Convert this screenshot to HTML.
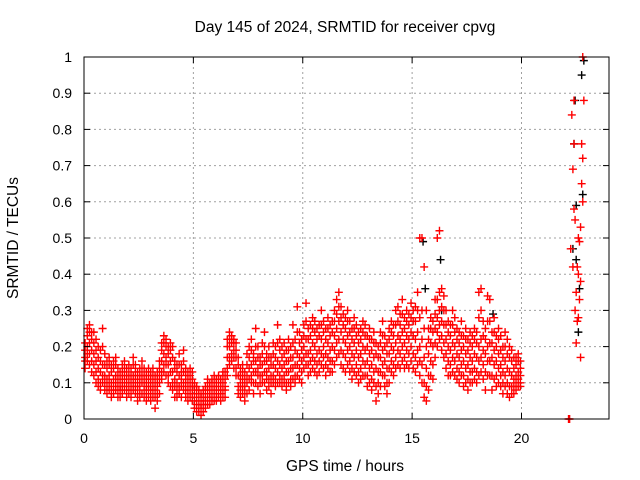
<!DOCTYPE html>
<html><head><meta charset="utf-8"><style>
html,body{margin:0;padding:0;background:#fff}
svg{display:block;font-family:"Liberation Sans",sans-serif}
</style></head><body>
<svg id="chart" width="640" height="480" viewBox="0 0 640 480" xmlns="http://www.w3.org/2000/svg">
<text x="345" y="32" font-size="15.5" text-anchor="middle">Day 145 of 2024, SRMTID for receiver cpvg</text>
<g id="grid"></g>
<g id="marks"></g>
<g id="axes"></g>
<text x="345" y="471" font-size="15.5" text-anchor="middle">GPS time / hours</text>
<text transform="translate(18,238) rotate(-90)" font-size="15.5" text-anchor="middle">SRMTID / TECUs</text>
</svg>
<script>
const xTicks=[0,5,10,15,20];
const yTicks=[0,0.1,0.2,0.3,0.4,0.5,0.6,0.7,0.8,0.9,1];
const yTickLabels=["0","0.1","0.2","0.3","0.4","0.5","0.6","0.7","0.8","0.9","1"];
const binStart=0.05, binStep=0.1;
const midVals=[0.17,0.2,0.21,0.19,0.18,0.16,0.14,0.13,0.15,0.12,
0.11,0.12,0.1,0.11,0.12,0.1,0.09,0.11,0.12,0.1,
0.11,0.1,0.12,0.11,0.09,0.1,0.12,0.1,0.09,0.1,
0.09,0.1,0.08,0.09,0.12,0.16,0.18,0.17,0.15,0.16,
0.13,0.11,0.1,0.12,0.11,0.13,0.1,0.09,0.1,0.09,
0.07,0.06,0.05,0.04,0.05,0.06,0.08,0.07,0.08,0.09,
0.08,0.09,0.08,0.1,0.09,0.17,0.2,0.21,0.19,0.17,
0.12,0.1,0.11,0.09,0.12,0.14,0.15,0.13,0.16,0.14,
0.12,0.15,0.16,0.13,0.14,0.12,0.15,0.14,0.16,0.15,
0.14,0.15,0.13,0.16,0.14,0.17,0.15,0.18,0.17,0.16,
0.2,0.22,0.18,0.19,0.21,0.2,0.18,0.19,0.22,0.2,
0.18,0.21,0.19,0.2,0.23,0.25,0.27,0.24,0.22,0.21,
0.23,0.2,0.18,0.21,0.19,0.17,0.18,0.2,0.19,0.16,
0.18,0.15,0.17,0.14,0.13,0.17,0.19,0.16,0.14,0.18,
0.2,0.19,0.21,0.23,0.22,0.24,0.21,0.23,0.22,0.24,
0.23,0.22,0.24,0.2,0.22,0.17,0.14,0.18,0.21,0.2,
0.25,0.28,0.3,0.27,0.26,0.22,0.2,0.19,0.21,0.2,
0.18,0.17,0.19,0.16,0.18,0.15,0.17,0.16,0.18,0.17,
0.2,0.22,0.19,0.18,0.2,0.21,0.17,0.19,0.16,0.18,
0.15,0.13,0.16,0.14,0.13,0.12,0.11,0.12,0.13,0.12];
const loVals=[0.14,0.16,0.15,0.13,0.12,0.1,0.09,0.08,0.1,0.08,
0.07,0.08,0.06,0.07,0.08,0.06,0.06,0.07,0.08,0.06,
0.07,0.06,0.08,0.07,0.05,0.06,0.07,0.06,0.05,0.06,
0.05,0.06,0.03,0.05,0.07,0.11,0.13,0.12,0.1,0.09,
0.08,0.06,0.06,0.07,0.06,0.08,0.06,0.05,0.06,0.05,
0.03,0.02,0.02,0.01,0.02,0.03,0.04,0.04,0.05,0.05,
0.05,0.06,0.05,0.06,0.06,0.12,0.15,0.16,0.14,0.12,
0.07,0.06,0.07,0.05,0.07,0.08,0.1,0.07,0.1,0.09,
0.07,0.1,0.1,0.08,0.09,0.07,0.1,0.09,0.1,0.1,
0.09,0.1,0.08,0.1,0.09,0.11,0.1,0.12,0.11,0.1,
0.14,0.15,0.12,0.13,0.14,0.13,0.12,0.13,0.15,0.14,
0.12,0.14,0.13,0.13,0.15,0.17,0.18,0.15,0.14,0.13,
0.15,0.13,0.11,0.13,0.12,0.1,0.11,0.12,0.12,0.09,
0.1,0.08,0.1,0.05,0.07,0.09,0.12,0.09,0.07,0.1,
0.13,0.12,0.14,0.15,0.14,0.16,0.14,0.15,0.14,0.16,
0.14,0.13,0.15,0.12,0.1,0.06,0.05,0.08,0.12,0.11,
0.17,0.2,0.22,0.19,0.17,0.14,0.12,0.12,0.13,0.12,
0.11,0.1,0.12,0.09,0.1,0.08,0.1,0.1,0.11,0.1,
0.12,0.13,0.11,0.08,0.12,0.12,0.08,0.11,0.09,0.1,
0.09,0.07,0.09,0.07,0.06,0.07,0.07,0.08,0.09,0.09];
const q1Vals=[0.16,0.18,0.18,0.16,0.15,0.13,0.11,0.1,0.12,0.1,
0.09,0.1,0.08,0.09,0.1,0.08,0.08,0.09,0.1,0.08,
0.09,0.08,0.1,0.09,0.07,0.08,0.1,0.08,0.07,0.08,
0.07,0.08,0.06,0.07,0.1,0.13,0.15,0.15,0.12,0.13,
0.1,0.09,0.08,0.09,0.09,0.1,0.08,0.07,0.08,0.07,
0.05,0.04,0.03,0.03,0.04,0.05,0.06,0.06,0.06,0.07,
0.06,0.07,0.07,0.08,0.08,0.14,0.17,0.18,0.17,0.14,
0.09,0.08,0.09,0.07,0.1,0.11,0.12,0.1,0.13,0.12,
0.1,0.12,0.13,0.11,0.11,0.1,0.12,0.11,0.13,0.12,
0.11,0.12,0.1,0.13,0.11,0.14,0.12,0.15,0.14,0.13,
0.17,0.18,0.15,0.16,0.17,0.16,0.15,0.16,0.18,0.17,
0.15,0.17,0.16,0.16,0.19,0.21,0.22,0.19,0.18,0.17,
0.19,0.16,0.14,0.17,0.15,0.13,0.14,0.16,0.15,0.12,
0.14,0.11,0.13,0.09,0.1,0.13,0.15,0.12,0.1,0.14,
0.16,0.15,0.17,0.19,0.18,0.2,0.17,0.19,0.18,0.2,
0.18,0.17,0.19,0.16,0.15,0.1,0.09,0.12,0.16,0.15,
0.21,0.24,0.26,0.23,0.21,0.18,0.16,0.15,0.17,0.16,
0.14,0.13,0.15,0.12,0.14,0.11,0.13,0.13,0.14,0.13,
0.16,0.17,0.15,0.13,0.16,0.16,0.12,0.15,0.12,0.14,
0.12,0.1,0.12,0.1,0.09,0.09,0.09,0.1,0.11,0.1];
const q3Vals=[0.19,0.23,0.24,0.22,0.21,0.19,0.17,0.16,0.2,0.15,
0.14,0.15,0.13,0.14,0.15,0.12,0.11,0.13,0.14,0.12,
0.13,0.12,0.15,0.13,0.11,0.12,0.14,0.12,0.11,0.12,
0.11,0.12,0.1,0.11,0.14,0.19,0.21,0.2,0.18,0.19,
0.17,0.14,0.13,0.15,0.13,0.16,0.12,0.11,0.12,0.11,
0.09,0.08,0.07,0.06,0.07,0.08,0.1,0.09,0.1,0.11,
0.1,0.11,0.1,0.12,0.11,0.2,0.22,0.22,0.21,0.19,
0.15,0.12,0.13,0.11,0.15,0.17,0.19,0.16,0.2,0.17,
0.15,0.18,0.2,0.16,0.17,0.15,0.18,0.17,0.21,0.19,
0.17,0.18,0.16,0.19,0.17,0.21,0.19,0.24,0.21,0.19,
0.23,0.27,0.22,0.23,0.25,0.24,0.22,0.23,0.26,0.24,
0.22,0.25,0.23,0.24,0.27,0.29,0.31,0.28,0.26,0.25,
0.27,0.24,0.22,0.25,0.23,0.21,0.22,0.24,0.23,0.2,
0.22,0.19,0.21,0.18,0.17,0.21,0.23,0.2,0.18,0.22,
0.24,0.23,0.26,0.27,0.26,0.29,0.25,0.27,0.26,0.28,
0.27,0.27,0.3,0.28,0.3,0.25,0.2,0.22,0.25,0.24,
0.29,0.33,0.35,0.31,0.3,0.26,0.24,0.23,0.26,0.24,
0.22,0.21,0.23,0.2,0.22,0.19,0.21,0.2,0.22,0.21,
0.28,0.3,0.23,0.22,0.27,0.27,0.21,0.24,0.2,0.22,
0.19,0.17,0.2,0.18,0.17,0.16,0.14,0.15,0.16,0.14];
const hiVals=[0.21,0.25,0.26,0.24,0.24,0.22,0.2,0.19,0.25,0.18,
0.16,0.17,0.15,0.16,0.17,0.14,0.13,0.15,0.16,0.14,
0.15,0.14,0.17,0.15,0.13,0.14,0.16,0.14,0.13,0.14,
0.13,0.14,0.12,0.13,0.16,0.21,0.23,0.22,0.2,0.21,
0.2,0.16,0.15,0.18,0.15,0.19,0.14,0.13,0.14,0.13,
0.1,0.09,0.08,0.07,0.08,0.09,0.11,0.1,0.11,0.12,
0.11,0.12,0.11,0.13,0.13,0.22,0.24,0.23,0.22,0.21,
0.17,0.14,0.15,0.13,0.18,0.2,0.22,0.18,0.25,0.2,
0.17,0.21,0.24,0.18,0.2,0.17,0.21,0.2,0.26,0.22,
0.2,0.21,0.19,0.22,0.2,0.26,0.22,0.31,0.24,0.22,
0.26,0.32,0.25,0.26,0.28,0.27,0.25,0.26,0.3,0.27,
0.25,0.28,0.26,0.27,0.3,0.33,0.35,0.31,0.29,0.28,
0.3,0.27,0.25,0.28,0.26,0.24,0.25,0.27,0.26,0.23,
0.25,0.22,0.24,0.21,0.2,0.24,0.27,0.23,0.21,0.25,
0.27,0.26,0.3,0.31,0.29,0.33,0.28,0.3,0.29,0.32,
0.3,0.31,0.35,0.5,0.5,0.42,0.3,0.25,0.28,0.27,
0.33,0.5,0.52,0.36,0.34,0.3,0.27,0.26,0.3,0.28,
0.25,0.24,0.27,0.23,0.25,0.22,0.24,0.23,0.25,0.24,
0.35,0.36,0.27,0.25,0.34,0.33,0.24,0.28,0.23,0.25,
0.23,0.2,0.24,0.22,0.2,0.19,0.17,0.17,0.18,0.16];
const lateTimes=[22.15,22.2,22.25,22.3,22.35,22.4,22.35,22.45,22.5,22.45,22.55,22.6,22.55,22.65,22.7,22.75,22.8,22.75,22.85,22.8,22.7,22.6,22.7,22.8,22.4,22.4,22.5,22.6,22.65];
const lateVals=[0.0,0.0,0.47,0.84,0.69,0.58,0.42,0.55,0.35,0.3,0.42,0.5,0.27,0.33,0.38,0.65,0.72,0.76,0.88,1.0,0.53,0.28,0.17,0.6,0.88,0.76,0.21,0.4,0.49];
const blackTimes=[15.5,15.6,16.3,16.35,18.7,22.35,22.4,22.45,22.5,22.6,22.75,22.8,22.85,22.5,22.65];
const blackVals=[0.49,0.36,0.44,0.3,0.29,0.47,0.76,0.88,0.59,0.24,0.95,0.62,0.99,0.44,0.36];

const X0=84,X1=609,Y0=419,Y1=57,XMAX=24;
const sx=v=>X0+v/XMAX*(X1-X0);
const sy=v=>Y0-v*(Y0-Y1);
const NS="http://www.w3.org/2000/svg";
function mk(tag,parent,attrs){const e=document.createElementNS(NS,tag);for(const k in attrs)e.setAttribute(k,attrs[k]);parent.appendChild(e);return e;}
const grid=document.getElementById('grid'),axes=document.getElementById('axes'),marks=document.getElementById('marks');
yTicks.forEach((v,i)=>{
  const y=sy(v);
  if(i>0&&i<yTicks.length-1){const g=mk('line',grid,{x1:X0,x2:X1,y1:y,y2:y,stroke:'#a0a0a0','stroke-dasharray':'2,3'});
  
  }
  const t=mk('line',axes,{x1:X0,x2:X0+6,y1:y,y2:y,stroke:'#000'});
  
  
  const t2=mk('line',axes,{x1:X1,x2:X1-6,y1:y,y2:y,stroke:'#000'});
  
  
  const l=mk('text',axes,{x:X0-12,y:y+5,'font-size':14,'text-anchor':'end'});
  l.textContent=yTickLabels[i];
  
  
});
xTicks.forEach(v=>{
  const x=sx(v);
  if(v>0){const g=mk('line',grid,{x1:x,x2:x,y1:Y0,y2:Y1,stroke:'#a0a0a0','stroke-dasharray':'2,3'});
  
  }
  const t=mk('line',axes,{x1:x,x2:x,y1:Y0,y2:Y0-6,stroke:'#000'});
  
  
  const t2=mk('line',axes,{x1:x,x2:x,y1:Y1,y2:Y1+6,stroke:'#000'});
  
  
  const l=mk('text',axes,{x:x,y:Y0+24,'font-size':14,'text-anchor':'middle'});
  l.textContent=String(v);
  
  
});
const frame=mk('rect',axes,{x:X0,y:Y1,width:X1-X0,height:Y0-Y1,fill:'none',stroke:'#000'});


function plus(t,v,color){
  const x=sx(t),y=sy(v);
  const p=mk('path',marks,{d:`M${x-4},${y}H${x+4}M${x},${y-4}V${y+4}`,stroke:color,'stroke-width':1.4,fill:'none'});
  
  
}
blackTimes.forEach((t,i)=>plus(t,blackVals[i],'#000'));
[loVals,q1Vals,midVals,q3Vals,hiVals].forEach(arr=>arr.forEach((v,i)=>plus(binStart+i*binStep,v,'#ff0000')));
lateTimes.forEach((t,i)=>plus(t,lateVals[i],'#ff0000'));
</script>
</body></html>
